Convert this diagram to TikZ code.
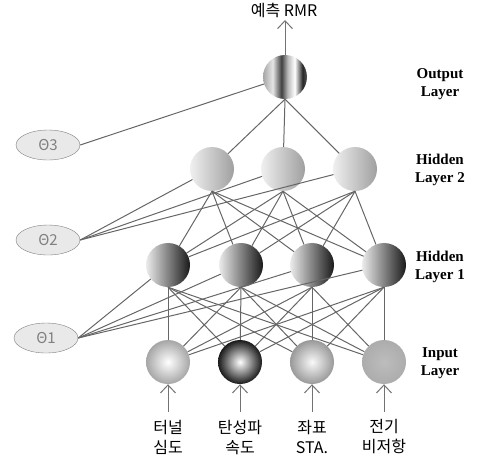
\documentclass[tikz,border=0pt]{standalone}
\usepackage{fontspec}
\setmainfont{Liberation Serif}
\newfontfamily\kr{Noto Sans CJK KR}
\usetikzlibrary{shapes.geometric,arrows.meta}

% striped metal look for the output unit
\pgfdeclarehorizontalshading{metal}{100bp}{color(0bp)=(gray!70); color(25bp)=(gray!70); color(36bp)=(gray!20); color(46bp)=(black!75); color(53bp)=(gray!55); color(61bp)=(white); color(70bp)=(black!85); color(75bp)=(black!65); color(100bp)=(black!65)}

\begin{document}
\begin{tikzpicture}[x=1pt, y=-1pt,
        neuron/.style={circle, minimum size=44pt, inner sep=0pt},
        link/.style={black!60, line width=1pt},
        feed/.style={black!55, line width=1pt, -{Straight Barb[length=8pt, width=15pt]}},
        theta/.style={ellipse, draw=gray, fill=gray!17, minimum width=64pt, minimum height=30pt, inner sep=0pt, text=gray, font=\kr\fontsize{15}{15}\selectfont},
        layer/.style={font=\bfseries\fontsize{15}{18}\selectfont, align=center},
        label/.style={font=\kr\fontsize{16}{20}\selectfont, align=center}]
    \useasboundingbox (0,0) rectangle (478,459);

    % units
    \node[neuron, shading=metal] (out) at (285,77) {};
    \foreach \x [count=\i] in {212,283,355}
        \node[neuron, left color=gray!12, right color=gray!75] (h2\i) at (\x,169) {};
    \foreach \x [count=\i] in {168,241,312,384}
        \node[neuron, left color=gray!15, right color=black!90] (h1\i) at (\x,265) {};
    \node[neuron, inner color=white, outer color=gray!70] (in1) at (168,362) {};
    \node[neuron, inner color=white, outer color=black!90] (in2) at (240,362) {};
    \node[neuron, inner color=gray!5, outer color=gray!80] (in3) at (312,362) {};
    \node[neuron, inner color=gray!52, outer color=gray!65] (in4) at (384,362) {};

    % weights between layers
    \foreach \i in {1,...,3}
        \draw[link] (out.south) -- (h2\i);
    \foreach \i in {1,...,3}
        \foreach \j in {1,...,4}
            \draw[link] (h2\i.south) -- (h1\j);
    \foreach \i in {1,...,4}
        \foreach \j in {1,...,4}
            \draw[link] (h1\i.south) -- (in\j);

    % biases
    \node[theta] (t3) at (48,145) {Θ3};
    \node[theta] (t2) at (48,240) {Θ2};
    \node[theta] (t1) at (46,338) {Θ1};
    \draw[link] (t3.east) -- (out);
    \foreach \i in {1,...,3}
        \draw[link] (t2.east) -- (h2\i);
    \foreach \i in {1,...,4}
        \draw[link] (t1.east) -- (h1\i);

    % output
    \coordinate (res) at (285,20);
    \draw[feed] (out.north) -- (res);
    \node[label] (pred) at (284,10) {예측 RMR};

    % inputs
    \foreach \x/\txt [count=\i] in {168/터널\\심도, 240/탄성파\\속도, 312/좌표\\STA., 384/전기\\비저항} {
        \coordinate (src\i) at (\x,412);
        \draw[feed] (src\i) -- (in\i);
        \node[label] (lab\i) at (\x,437) {\txt};
    }

    % layer names
    \node[layer] (lo) at (440,84) {Output\\Layer};
    \node[layer] (lh2) at (440,170) {Hidden\\Layer 2};
    \node[layer] (lh1) at (440,267) {Hidden\\Layer 1};
    \node[layer] (li) at (440,363) {Input\\Layer};
\end{tikzpicture}
\end{document}
